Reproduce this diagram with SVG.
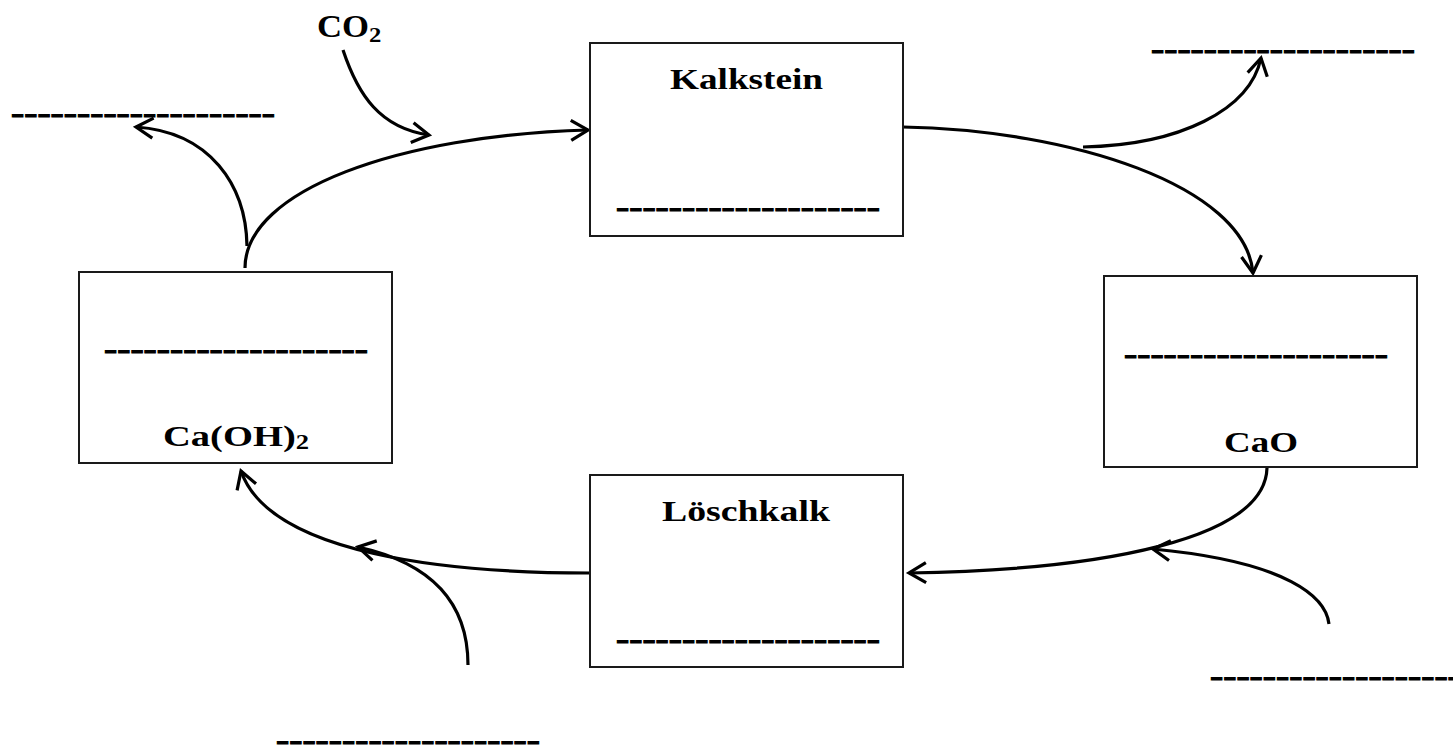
<svg xmlns="http://www.w3.org/2000/svg" width="1453" height="747" viewBox="0 0 1453 747">
<style>
.box{fill:#fff;stroke:#1a1a1a;stroke-width:2}
.t{font-family:"Liberation Serif","Times New Roman",serif;font-weight:bold;font-size:29px;fill:#000}
.d{font-family:"Liberation Serif","Times New Roman",serif;font-weight:bold;font-size:29px;fill:#000;stroke:#000;stroke-width:1}
.c{fill:none;stroke:#000;stroke-width:3.2;marker-end:url(#ah)}
</style>
<defs>
<marker id="ah" markerUnits="userSpaceOnUse" viewBox="-20 -12 22 24" refX="0" refY="0" markerWidth="22" markerHeight="24" orient="auto" overflow="visible">
<path d="M-17,-10 L0,0 L-17,10" fill="none" stroke="#000" stroke-width="3.2" stroke-linejoin="miter"/>
</marker>
</defs>
<rect width="1453" height="747" fill="#fff"/>
<g id="connectors">
<path class="c" d="M245,268 C245,190 400,135 588,130"/>
<path class="c" d="M247,246 C246,185 210,132 136,127"/>
<path class="c" d="M343,50 C358,95 380,128 429,135"/>
<path class="c" d="M903,127 C1070,130 1245,185 1253,273"/>
<path class="c" d="M1083,147 C1180,145 1250,110 1261,58"/>
<path class="c" d="M1267,468 C1265,540 1100,570 909,573"/>
<path class="c" d="M1329,624 C1326,598 1290,562 1153,549"/>
<path class="c" d="M590,573 C450,573 270,555 241,471"/>
<path class="c" d="M468,665 C468,610 440,565 358,547"/>
</g>
<g id="kalkstein">
<rect class="box" x="590" y="43" width="313" height="193"/>
<text class="t" x="670" y="89" textLength="153" lengthAdjust="spacingAndGlyphs">Kalkstein</text>
<text class="d" x="616" y="217" textLength="264" lengthAdjust="spacingAndGlyphs">--------------------</text>
</g>
<g id="cao">
<rect class="box" x="1104" y="276" width="313" height="191"/>
<text class="d" x="1124" y="364" textLength="264" lengthAdjust="spacingAndGlyphs">--------------------</text>
<text class="t" x="1224" y="452" textLength="74" lengthAdjust="spacingAndGlyphs">CaO</text>
</g>
<g id="loeschkalk">
<rect class="box" x="590" y="475" width="313" height="192"/>
<text class="t" x="662" y="521" textLength="168" lengthAdjust="spacingAndGlyphs">Löschkalk</text>
<text class="d" x="616" y="649" textLength="264" lengthAdjust="spacingAndGlyphs">--------------------</text>
</g>
<g id="caoh2">
<rect class="box" x="79" y="272" width="313" height="191"/>
<text class="d" x="104" y="359" textLength="264" lengthAdjust="spacingAndGlyphs">--------------------</text>
<text class="t" transform="translate(163,446) scale(1.33,1)">Ca(OH)<tspan style="font-size:20px" dy="3">2</tspan></text>
</g>
<g id="co2">
<text class="t" style="font-size:31px" transform="translate(317,37) scale(1.12,1)">CO<tspan style="font-size:22px" dy="5">2</tspan></text>
</g>
<g id="blank-top-left">
<text class="d" x="11" y="123" textLength="264" lengthAdjust="spacingAndGlyphs">--------------------</text>
</g>
<g id="blank-top-right">
<text class="d" x="1151" y="59" textLength="264" lengthAdjust="spacingAndGlyphs">--------------------</text>
</g>
<g id="blank-bottom-right">
<text class="d" x="1210" y="686" textLength="264" lengthAdjust="spacingAndGlyphs">--------------------</text>
</g>
<g id="blank-bottom-left">
<text class="d" x="276" y="750" textLength="264" lengthAdjust="spacingAndGlyphs">--------------------</text>
</g>
</svg>
